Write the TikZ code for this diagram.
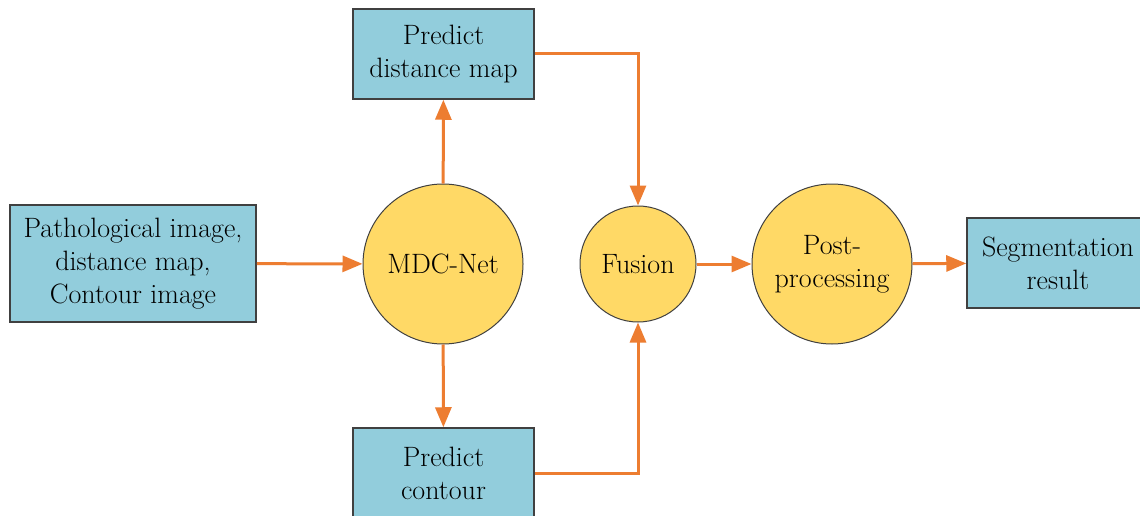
\documentclass[tikz,border=0pt]{standalone}
\usepackage{fontspec}
\usetikzlibrary{arrows.meta}
\definecolor{boxblue}{HTML}{92CDDC}
\definecolor{circyellow}{HTML}{FFD966}
\definecolor{arrorange}{HTML}{ED7D31}
\definecolor{edgegray}{HTML}{404040}
\tikzset{
  boxnode/.style={draw=edgegray, line width=1.5pt, fill=boxblue, minimum width=#1, align=center, inner sep=0pt, font=\fontsize{28}{33}\selectfont},
  circnode/.style={draw=edgegray, line width=1pt, fill=circyellow, circle, minimum size=#1, align=center, inner sep=0pt, font=\fontsize{28}{33}\selectfont},
  flow/.style={draw=arrorange, line width=3pt, -{Triangle[length=20pt,width=16pt]}}
}
\begin{document}
\begin{tikzpicture}[x=1pt,y=-1pt]
\useasboundingbox (0,0) rectangle (1140,516);
\fill[white] (0,0) rectangle (1140,516);
\node[boxnode=246pt, minimum height=117pt] (in) at (133,263.5) {Pathological image,\\distance map,\\Contour image};
\node[circnode=160pt] (mdc) at (443,264) {MDC-Net};
\node[boxnode=181pt, minimum height=90pt] (pdm) at (443.5,54) {Predict\\distance map};
\node[boxnode=181pt, minimum height=90pt] (pc) at (443.5,473) {Predict\\contour};
\node[circnode=116pt] (fus) at (638,264) {Fusion};
\node[circnode=160pt] (post) at (832,264) {Post-\\processing};
\node[boxnode=182pt, minimum height=90pt] (seg) at (1058,263) {Segmentation\\result};
\draw[flow] (in) -- (mdc);
\draw[flow] (mdc) -- (pdm);
\draw[flow] (mdc) -- (pc);
\draw[flow] (pdm.east) -| (fus.north);
\draw[flow] (pc.east) -| (fus.south);
\draw[flow] (fus) -- (post);
\draw[flow] (post) -- (seg);
\end{tikzpicture}
\end{document}
